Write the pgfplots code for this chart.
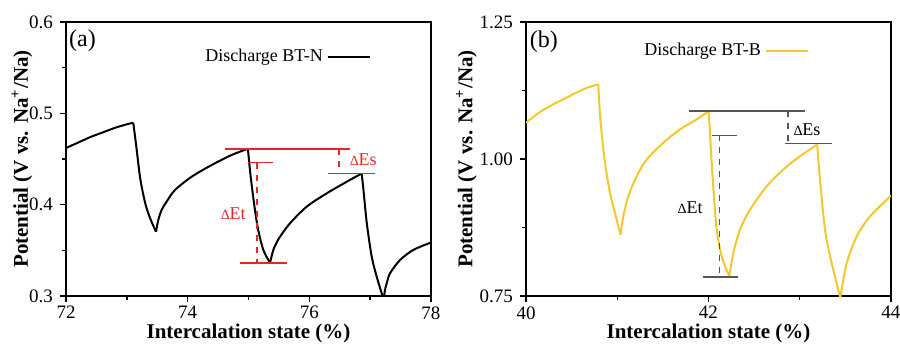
\documentclass[border=0pt]{standalone}
\usepackage{fontspec}
\setmainfont{Liberation Serif}
\usepackage{pgfplots}
\pgfplotsset{compat=1.18}
\definecolor{curvey}{RGB}{242,200,46}
\definecolor{annred}{RGB}{228,38,38}
\definecolor{anngray}{RGB}{85,85,85}
\newcommand{\dl}{{\fontsize{7}{7}\selectfont ∆}}
\pgfplotsset{
 common/.style={
  scale only axis, width=182.5pt, height=137pt,
  axis line style={line width=0.9pt},
  tick align=outside, tick pos=left,
  major tick length=3pt, minor tick length=1.8pt,
  every tick/.style={black, line width=0.7pt},
  minor x tick num=1, minor y tick num=1,
  tick label style={font=\fontsize{9.5}{10}\selectfont},
  xticklabel style={inner sep=0pt, yshift=-2pt},
  label style={font=\fontsize{10.5}{12}\selectfont\bfseries},
  /pgf/number format/assume math mode=true,
  xlabel={Intercalation state (\%)},
  ylabel={Potential (V vs. Na\textsuperscript{+}/Na)},
  xlabel style={at={(axis description cs:0.5,-0.137)}, anchor=center, inner sep=0pt},
  legend style={draw=none, fill=none, font=\fontsize{9}{10}\selectfont},
  legend plot pos=right,
  legend image code/.code={\draw[#1, line width=1pt] (0pt,0pt) -- (21pt,0pt);},
 }
}
\begin{document}
\begin{tikzpicture}
\path[use as bounding box] (0,0) rectangle (450pt,171.5pt);
% ---------------- (a)
\begin{axis}[common, at={(33pt,23.5pt)}, anchor=south west,
  xmin=72, xmax=78, ymin=0.3, ymax=0.6,
  xtick={72,74,76,78}, ytick={0.3,0.4,0.5,0.6},
  yticklabel style={/pgf/number format/.cd, fixed, fixed zerofill, precision=1},
  ylabel style={at={(axis description cs:-0.1205,0.5)}, anchor=center},
  legend style={at={(0.603,0.872)}, anchor=center}]
\addplot[black, line width=1pt, smooth, tension=0.5] coordinates {
(72,0.462) (72.2,0.468) (72.4,0.474) (72.6,0.479) (72.8,0.484) (73.0,0.488) (73.106,0.4897)};
\addlegendentry{Discharge BT-N}
\addplot[black, line width=1pt, smooth, tension=0.5, forget plot] coordinates {
(73.106,0.4897) (73.156,0.4635) (73.221,0.4284) (73.304,0.4011) (73.386,0.3846) (73.48,0.3704)};
\addplot[black, line width=1pt, smooth, tension=0.5, forget plot] coordinates {
(73.48,0.3704) (73.517,0.3832) (73.572,0.3942) (73.654,0.4033) (73.792,0.4161) (74.066,0.4306) (74.395,0.4434) (74.724,0.4544) (74.99,0.4612)};
\addplot[black, line width=1pt, smooth, tension=0.5, forget plot] coordinates {
(74.99,0.4612) (75.03,0.4343) (75.09,0.4020) (75.155,0.3740) (75.244,0.3504) (75.354,0.3365)};
\addplot[black, line width=1pt, smooth, tension=0.5, forget plot] coordinates {
(75.354,0.3365) (75.408,0.3504) (75.463,0.3586) (75.518,0.3649) (75.682,0.3796) (75.957,0.3978) (76.286,0.4124) (76.615,0.4251) (76.86,0.4341)};
\addplot[black, line width=1pt, smooth, tension=0.5, forget plot] coordinates {
(76.86,0.4341) (76.89,0.4161) (76.945,0.3796) (77.026,0.3430) (77.108,0.3211) (77.19,0.3030) (77.225,0.2970)};
\addplot[black, line width=1pt, smooth, tension=0.5, forget plot] coordinates {
(77.225,0.2970) (77.244,0.3066) (77.285,0.3170) (77.326,0.3249) (77.491,0.3394) (77.709,0.3504) (78.0,0.3586)};
% annotations
\addplot[annred, line width=0.8pt, forget plot] coordinates {(74.61,0.461) (76.67,0.461)};
\addplot[annred, line width=0.8pt, forget plot] coordinates {(75.0,0.446) (75.41,0.446)};
\addplot[annred, line width=0.8pt, forget plot] coordinates {(74.86,0.336) (75.63,0.336)};
\addplot[annred, line width=0.8pt, forget plot] coordinates {(76.31,0.434) (77.08,0.434)};
\addplot[annred, line width=0.8pt, dashed, forget plot] coordinates {(75.14,0.446) (75.14,0.336)};
\addplot[annred, line width=0.8pt, dashed, forget plot] coordinates {(76.49,0.461) (76.49,0.434)};
\node[annred, font=\fontsize{9}{10}\selectfont] at (axis cs:74.75,0.390) {\dl Et};
\node[annred, font=\fontsize{9}{10}\selectfont] at (axis cs:76.89,0.449) {\dl Es};
\node[font=\fontsize{12}{12}\selectfont] at (rel axis cs:0.045,0.931) {(a)};
\end{axis}
% ---------------- (b)
\begin{axis}[common, at={(263pt,23.5pt)}, anchor=south west,
  xmin=40, xmax=44, ymin=0.75, ymax=1.25,
  xtick={40,42,44}, ytick={0.75,1.00,1.25},
  yticklabel style={/pgf/number format/.cd, fixed, fixed zerofill, precision=2},
  ylabel style={at={(axis description cs:-0.163,0.5)}, anchor=center},
  legend style={at={(0.544,0.895)}, anchor=center}]
\addplot[curvey, line width=1pt, smooth, tension=0.5] coordinates {
(40,1.0663) (40.13,1.0830) (40.263,1.0967) (40.446,1.1121) (40.628,1.1273) (40.792,1.1364)};
\addlegendentry{Discharge BT-B}
\addplot[curvey, line width=1pt, smooth, tension=0.5, forget plot] coordinates {
(40.792,1.1364) (40.815,1.0723) (40.866,0.9930) (40.921,0.9381) (40.975,0.9015) (41.036,0.8617)};
\addplot[curvey, line width=1pt, smooth, tension=0.5, forget plot] coordinates {
(41.036,0.8617) (41.066,0.8952) (41.121,0.9319) (41.213,0.9685) (41.323,0.9991) (41.505,1.0297) (41.688,1.0540) (41.871,1.0723) (41.998,1.0870)};
\addplot[curvey, line width=1pt, smooth, tension=0.5, forget plot] coordinates {
(41.998,1.0870) (42.011,1.0632) (42.035,0.9930) (42.06,0.9319) (42.09,0.8709) (42.145,0.8220) (42.228,0.7866)};
\addplot[curvey, line width=1pt, smooth, tension=0.5, forget plot] coordinates {
(42.228,0.7866) (42.272,0.8282) (42.345,0.8709) (42.455,0.9075) (42.638,0.9502) (42.82,0.9808) (43.003,1.0051) (43.192,1.0266)};
\addplot[curvey, line width=1pt, smooth, tension=0.5, forget plot] coordinates {
(43.192,1.0266) (43.222,0.9625) (43.277,0.8709) (43.35,0.8099) (43.434,0.7537) (43.445,0.7480)};
\addplot[curvey, line width=1pt, smooth, tension=0.5, forget plot] coordinates {
(43.445,0.7480) (43.515,0.8099) (43.624,0.8586) (43.77,0.8952) (44.0,0.9332)};
% annotations
\addplot[anngray, line width=0.8pt, forget plot] coordinates {(41.79,1.088) (43.06,1.088)};
\addplot[anngray, line width=0.8pt, forget plot] coordinates {(42.04,1.043) (42.31,1.043)};
\addplot[anngray, line width=0.8pt, forget plot] coordinates {(41.94,0.785) (42.32,0.785)};
\addplot[anngray, line width=0.8pt, forget plot] coordinates {(42.84,1.028) (43.35,1.028)};
\addplot[anngray, line width=0.8pt, dashed, forget plot] coordinates {(42.12,1.043) (42.12,0.785)};
\addplot[anngray, line width=0.8pt, dashed, forget plot] coordinates {(42.87,1.088) (42.87,1.028)};
\node[black, font=\fontsize{9}{10}\selectfont] at (axis cs:41.80,0.912) {\dl Et};
\node[black, font=\fontsize{9}{10}\selectfont] at (axis cs:43.08,1.054) {\dl Es};
\node[font=\fontsize{12}{12}\selectfont] at (rel axis cs:0.049,0.927) {(b)};
\end{axis}
\end{tikzpicture}
\end{document}
